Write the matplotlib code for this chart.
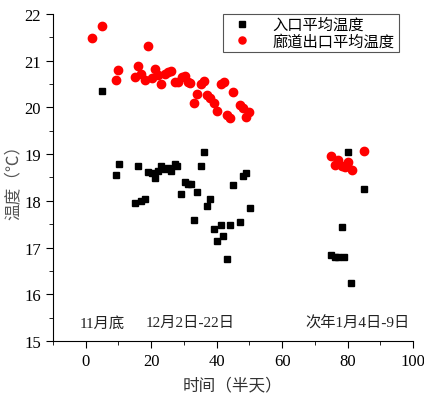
import numpy as np
import matplotlib.pyplot as plt
from matplotlib.ticker import MultipleLocator

plt.rcParams['font.family'] = ['Liberation Serif', 'Noto Sans CJK SC']

# 入口平均温度 (black squares)
inlet_x = [5.0, 9.1, 10.1, 15.0, 16.0, 17.0, 18.0, 19.1, 20.1, 21.1, 22.1, 23.1,
           24.2, 25.2, 26.0, 27.2, 28.0, 29.1, 30.3, 31.3, 32.3, 33.0, 34.0,
           35.1, 36.1, 37.1, 38.1, 39.1, 40.2, 41.2, 42.0, 43.2, 44.0, 45.0,
           47.1, 48.1, 48.9, 50.2,
           75.1, 76.1, 77.2, 78.2, 79.0, 80.2, 81.0, 85.1]
inlet_y = [20.34, 18.55, 18.79, 17.95, 18.75, 18.0, 18.05, 18.61, 18.59, 18.49,
           18.64, 18.75, 18.68, 18.70, 18.63, 18.79, 18.75, 18.15, 18.40, 18.36,
           18.36, 17.60, 18.19, 18.75, 19.04, 17.90, 18.05, 17.40, 17.15, 17.49,
           17.24, 16.75, 17.49, 18.34, 17.55, 18.54, 18.60, 17.85,
           16.85, 16.80, 16.80, 17.45, 16.80, 19.04, 16.25, 18.25]

# 廊道出口平均温度 (red circles)
outlet_x = [2.0, 5.0, 9.1, 10.0, 15.0, 16.0, 17.0, 18.0, 19.1, 20.1, 21.1, 22.1,
            23.1, 24.2, 25.2, 26.0, 27.2, 28.2, 29.3, 30.3, 31.3, 32.0, 33.0,
            34.1, 35.2, 36.1, 37.1, 38.1, 39.1, 40.2, 41.2, 42.2, 43.2, 44.0,
            45.0, 47.1, 48.1, 49.1, 50.0,
            75.1, 76.1, 77.2, 78.2, 79.2, 79.7, 80.2, 81.3, 85.1]
outlet_y = [21.49, 21.75, 20.59, 20.79, 20.65, 20.89, 20.71, 20.59, 21.32, 20.63,
            20.82, 20.70, 20.49, 20.72, 20.75, 20.77, 20.54, 20.54, 20.64, 20.68,
            20.54, 20.52, 20.09, 20.29, 20.50, 20.57, 20.27, 20.19, 20.09, 19.93,
            20.49, 20.54, 19.84, 19.77, 20.33, 20.04, 19.99, 19.79, 19.90,
            18.97, 18.77, 18.87, 18.74, 18.72, 18.77, 18.84, 18.66, 19.06]

period_labels = ['11月底', '12月2日-22日', '次年1月4日-9日']
period_x = [5, 31.8, 83]

fig = plt.figure(figsize=(4.24, 4.02), dpi=100)
ax = fig.add_axes([0.125, 0.149, 0.849, 0.814])

ax.plot(inlet_x, inlet_y, 's', color='black', markersize=5, label='入口平均温度')
ax.plot(outlet_x, outlet_y, 'o', color='red', markersize=6, label='廊道出口平均温度')

for lab, px in zip(period_labels, period_x):
    ax.text(px, 15.4, lab, ha='center', va='center', fontsize=11, color='#222222')

ax.set_xlim(-10, 100)
ax.set_ylim(15, 22)
ax.xaxis.set_major_locator(MultipleLocator(20))
ax.xaxis.set_minor_locator(MultipleLocator(10))
ax.yaxis.set_major_locator(MultipleLocator(1))
ax.yaxis.set_minor_locator(MultipleLocator(0.5))
ax.tick_params(which='major', direction='out', length=5, labelsize=12)
ax.tick_params(which='minor', direction='out', length=3)
ax.spines['top'].set_visible(False)
ax.spines['right'].set_visible(False)

ax.set_xlabel('时间（半天）', fontsize=12, color='#333333', labelpad=6)
ax.set_ylabel('温度（℃）', fontsize=12, color='#555555', labelpad=2)

leg = ax.legend(loc='upper right', bbox_to_anchor=(0.96, 1.0), borderaxespad=0,
                fontsize=11, fancybox=False, edgecolor='#555555', framealpha=1,
                handletextpad=1.0, borderpad=0.25, labelspacing=0.1,
                handlelength=2.0, markerscale=0.85)
leg.get_frame().set_linewidth(0.8)

fig.savefig('out.png', dpi=100)
